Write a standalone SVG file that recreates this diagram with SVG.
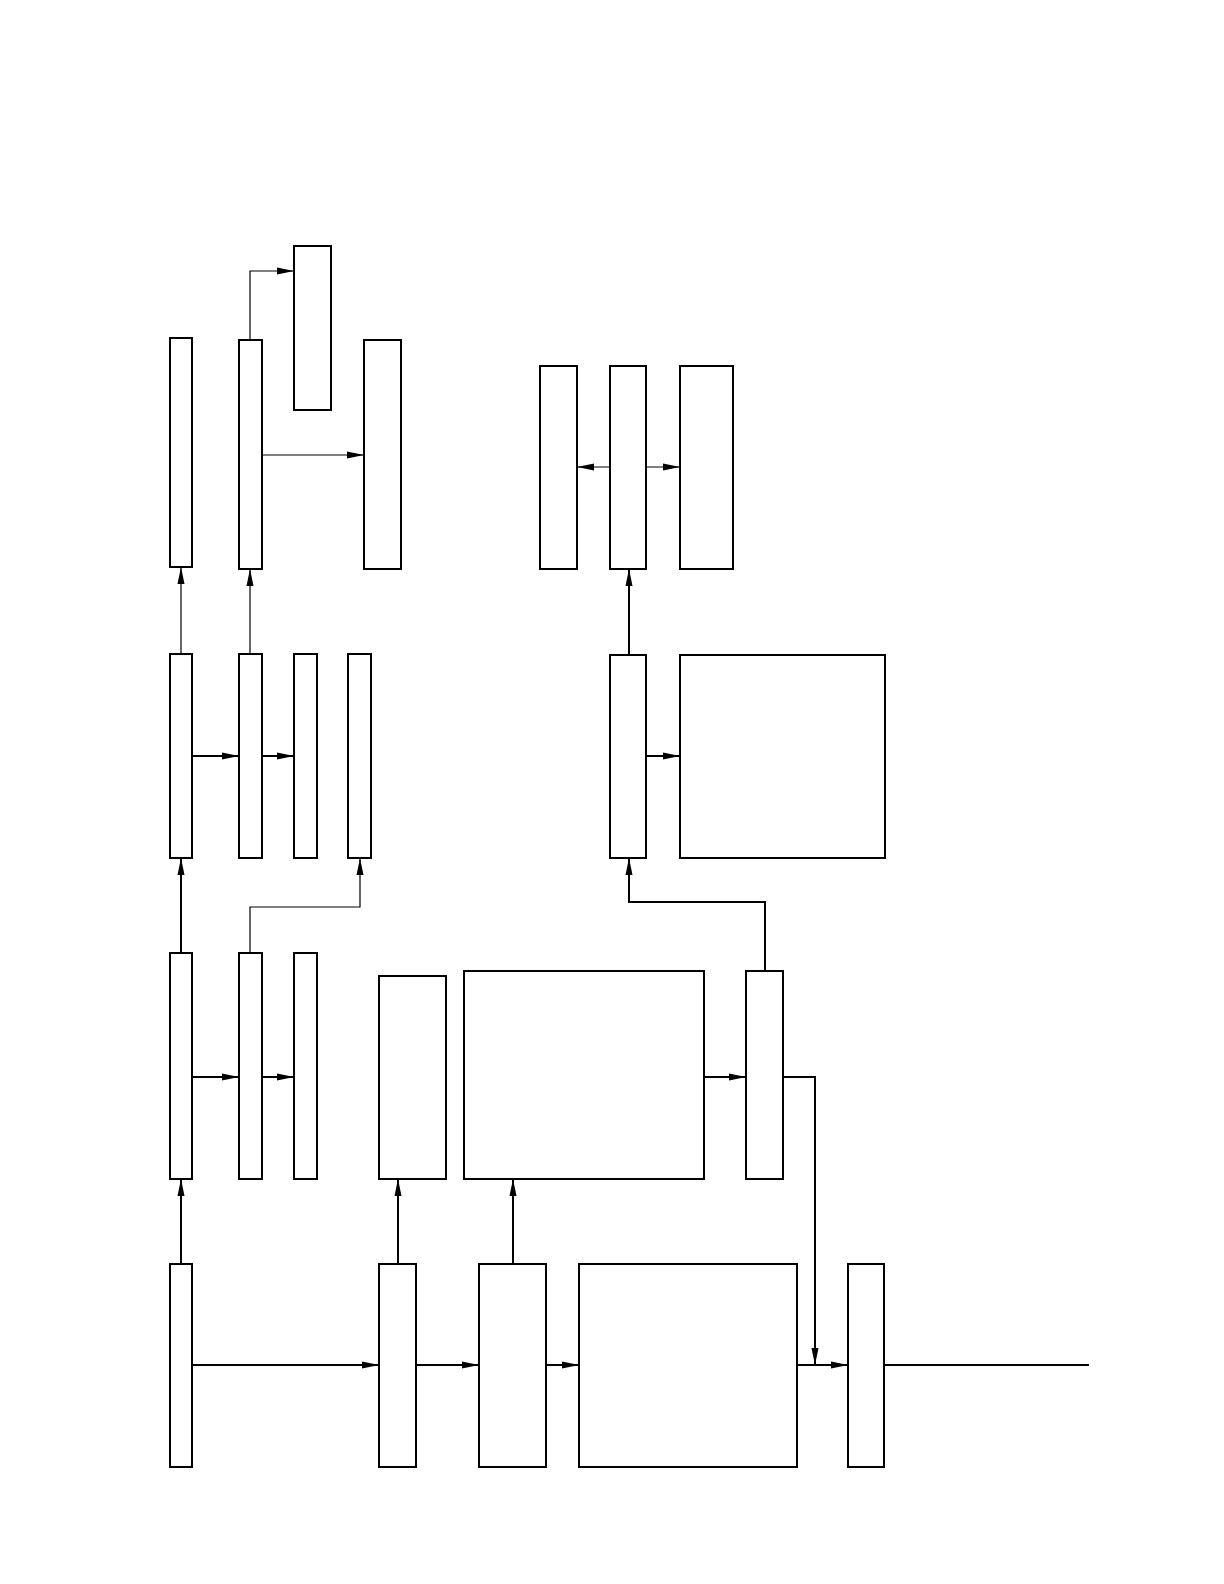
<svg xmlns="http://www.w3.org/2000/svg" width="1224" height="1584" viewBox="0 0 1224 1584">
<style>
.n{fill:#fff;stroke:#000;stroke-width:2}
.c{fill:none;stroke:#000;stroke-width:2}
.t{fill:none;stroke:#000;stroke-width:1.2}
</style>
<defs>
<marker id="ah" markerUnits="userSpaceOnUse" markerWidth="18" markerHeight="8" refX="17" refY="4" orient="auto">
<path d="M0,0.5 L17,4 L0,7.5 z" fill="#000"/>
</marker>
</defs>
<rect width="1224" height="1584" fill="#fff"/>
<g id="connectors">
<path class="t" d="M181,654 V567" marker-end="url(#ah)"/>
<path class="t" d="M250,654 V569" marker-end="url(#ah)"/>
<path class="t" d="M250,340 V271 H294" marker-end="url(#ah)"/>
<path class="t" d="M262,455 H364" marker-end="url(#ah)"/>
<path class="t" d="M610,467 H577" marker-end="url(#ah)"/>
<path class="t" d="M646,467 H680" marker-end="url(#ah)"/>
<path class="c" d="M629,655 V569" marker-end="url(#ah)"/>
<path class="c" d="M192,756 H239" marker-end="url(#ah)"/>
<path class="c" d="M262,756 H294" marker-end="url(#ah)"/>
<path class="c" d="M646,756 H680" marker-end="url(#ah)"/>
<path class="c" d="M181,953 V858" marker-end="url(#ah)"/>
<path class="t" d="M250,953 V907 H360 V858" marker-end="url(#ah)"/>
<path class="c" d="M765,971 V902 H629 V858" marker-end="url(#ah)"/>
<path class="c" d="M192,1077 H239" marker-end="url(#ah)"/>
<path class="c" d="M262,1077 H294" marker-end="url(#ah)"/>
<path class="c" d="M704,1077 H746" marker-end="url(#ah)"/>
<path class="c" d="M783,1077 H815 V1365" marker-end="url(#ah)"/>
<path class="c" d="M181,1264 V1179" marker-end="url(#ah)"/>
<path class="c" d="M398,1264 V1179" marker-end="url(#ah)"/>
<path class="c" d="M513,1264 V1179" marker-end="url(#ah)"/>
<path class="c" d="M192,1365 H379" marker-end="url(#ah)"/>
<path class="c" d="M416,1365 H479" marker-end="url(#ah)"/>
<path class="c" d="M546,1365 H579" marker-end="url(#ah)"/>
<path class="c" d="M797,1365 H848" marker-end="url(#ah)"/>
<path class="c" d="M884,1365 H1089"/>
</g>
<g id="nA"><rect class="n" x="170" y="338" width="22" height="229"/></g>
<g id="nB"><rect class="n" x="239" y="340" width="23" height="229"/></g>
<g id="nC"><rect class="n" x="294" y="246" width="37" height="164"/></g>
<g id="nD"><rect class="n" x="364" y="340" width="37" height="229"/></g>
<g id="nE"><rect class="n" x="540" y="366" width="37" height="203"/></g>
<g id="nF"><rect class="n" x="610" y="366" width="36" height="203"/></g>
<g id="nG"><rect class="n" x="680" y="366" width="53" height="203"/></g>
<g id="nH"><rect class="n" x="170" y="654" width="22" height="204"/></g>
<g id="nI"><rect class="n" x="239" y="654" width="23" height="204"/></g>
<g id="nJ"><rect class="n" x="294" y="654" width="23" height="204"/></g>
<g id="nK"><rect class="n" x="348" y="654" width="23" height="204"/></g>
<g id="nL"><rect class="n" x="610" y="655" width="36" height="203"/></g>
<g id="nM"><rect class="n" x="680" y="655" width="205" height="203"/></g>
<g id="nN"><rect class="n" x="170" y="953" width="22" height="226"/></g>
<g id="nO"><rect class="n" x="239" y="953" width="23" height="226"/></g>
<g id="nP"><rect class="n" x="294" y="953" width="23" height="226"/></g>
<g id="nQ"><rect class="n" x="379" y="976" width="67" height="203"/></g>
<g id="nR"><rect class="n" x="464" y="971" width="240" height="208"/></g>
<g id="nS"><rect class="n" x="746" y="971" width="37" height="208"/></g>
<g id="nT"><rect class="n" x="170" y="1264" width="22" height="203"/></g>
<g id="nU"><rect class="n" x="379" y="1264" width="37" height="203"/></g>
<g id="nV"><rect class="n" x="479" y="1264" width="67" height="203"/></g>
<g id="nW"><rect class="n" x="579" y="1264" width="218" height="203"/></g>
<g id="nX"><rect class="n" x="848" y="1264" width="36" height="203"/></g>
</svg>
